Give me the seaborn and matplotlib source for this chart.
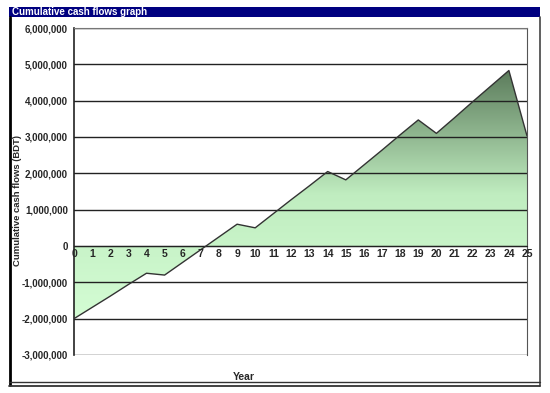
import matplotlib.pyplot as plt
import numpy as np
import pandas as pd
import seaborn as sns
from matplotlib.colors import LinearSegmentedColormap
from matplotlib.patches import Rectangle
from matplotlib.lines import Line2D
from matplotlib.ticker import FuncFormatter

# data
years = list(range(26))
cumulative = [
    -2000000, -1690000, -1380000, -1060000, -750000, -800000,
    -450000, -100000, 250000, 600000, 500000, 890000,
    1280000, 1660000, 2050000, 1820000, 2230000, 2640000,
    3060000, 3470000, 3100000, 3530000, 3970000, 4400000,
    4830000, 3030000,
]
y_ticks = list(range(-3000000, 6000001, 1000000))

title = "Cumulative cash flows graph"
x_label = "Year"
y_label = "Cumulative cash flows (BDT)"

df = pd.DataFrame({"year": years, "value": cumulative})

sns.set_style("white")
plt.rcParams["font.family"] = ["Liberation Sans", "DejaVu Sans"]
plt.rcParams["font.weight"] = "bold"

W, H = 550, 393
fig = plt.figure(figsize=(W / 100, H / 100), dpi=100)


def fx(px):
    return px / W


def fy(py):
    return 1 - py / H


ax = fig.add_axes([fx(74), fy(355), fx(527) - fx(74), fy(28) - fy(355)])
ax.set_axisbelow(False)

# gradient fill between line and zero
cmap = LinearSegmentedColormap.from_list("grn", ["#d4fdd4", "#c0edc0", "#5c7c5c"])
ymin, ymax = min(cumulative), max(cumulative)
grad = np.linspace(0, 1, 256).reshape(-1, 1)
img = ax.imshow(
    grad,
    extent=[years[0], years[-1], ymin, ymax],
    origin="lower",
    aspect="auto",
    cmap=cmap,
    zorder=1,
)
poly = ax.fill_between(df["year"], df["value"], 0, color="none", zorder=1)
clip_path = poly.get_paths()[0]
img.set_clip_path(clip_path, transform=ax.transData)

sns.lineplot(data=df, x="year", y="value", color="#333333", linewidth=1.0, ax=ax, zorder=3)

ax.set_xlim(0, 25)
ax.set_ylim(-3000000, 6000000)
ax.set_yticks(y_ticks)
ax.yaxis.set_major_formatter(FuncFormatter(lambda v, p: f"{int(v):,}"))
ax.set_xticks(years)

for t in y_ticks:
    ax.axhline(t, color="#222222", linewidth=1.0, zorder=2)

ax.spines["bottom"].set_position(("data", 0))
ax.spines["bottom"].set_color("#222222")
ax.spines["left"].set_color("#222222")
ax.spines["left"].set_linewidth(1.2)
ax.spines["top"].set_visible(True)
ax.spines["top"].set_color("#777777")
ax.spines["right"].set_visible(True)
ax.spines["right"].set_color("#555555")

ax.tick_params(axis="x", direction="in", length=3, pad=2, labelsize=7.5, color="#222222")
ax.tick_params(axis="y", direction="out", length=3, pad=1.5, labelsize=7, color="#555555")
for lab in ax.get_xticklabels() + ax.get_yticklabels():
    lab.set_fontweight("bold")
ax.xaxis.set_zorder(5)

ax.set_xlabel("")
ax.set_ylabel("")

# frame and title bar
fig.patches.append(Rectangle((fx(9), fy(17)), fx(540) - fx(9), fy(7) - fy(17),
                             transform=fig.transFigure, facecolor="#000080",
                             edgecolor="none"))
fig.text(fx(12), fy(12), title, color="white", fontsize=7, fontweight="bold",
         va="center", ha="left")
fig.lines.append(Line2D([fx(9.5), fx(9.5)], [fy(17), fy(385)], transform=fig.transFigure,
                        color="black", linewidth=2))
fig.lines.append(Line2D([fx(539.5), fx(539.5)], [fy(17), fy(386)], transform=fig.transFigure,
                        color="#444444", linewidth=1.2))
fig.lines.append(Line2D([fx(9), fx(540)], [fy(382), fy(382)], transform=fig.transFigure,
                        color="#333333", linewidth=1))
fig.lines.append(Line2D([fx(9), fx(540)], [fy(385.5), fy(385.5)], transform=fig.transFigure,
                        color="#333333", linewidth=1.3))

fig.text(fx(244), fy(377), x_label, fontsize=7.5, fontweight="bold", ha="center", va="center")
fig.text(fx(18), fy(200), y_label, fontsize=6.8, fontweight="bold", rotation=90,
         ha="center", va="center")

fig.savefig("out.png", dpi=100)
plt.close(fig)
